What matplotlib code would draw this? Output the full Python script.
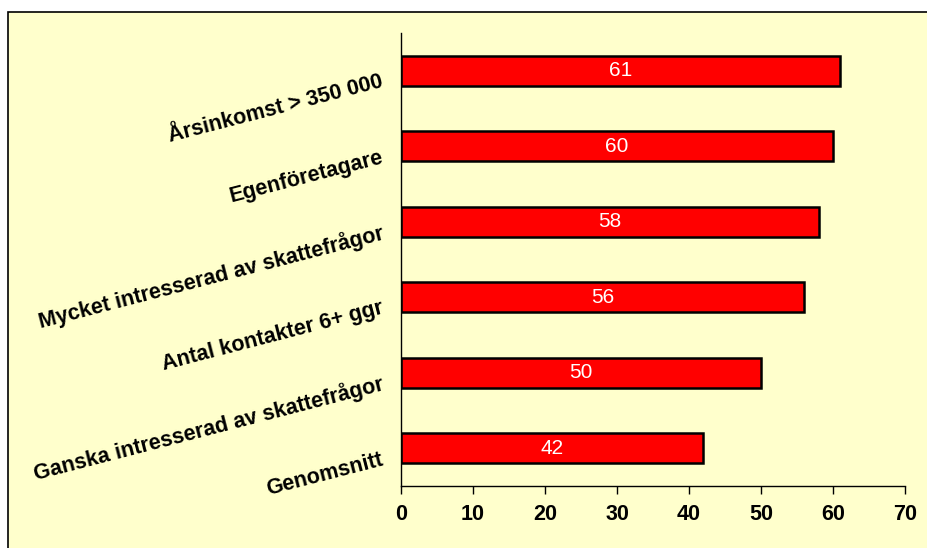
import matplotlib
matplotlib.use('Agg')
import matplotlib.pyplot as plt
from matplotlib.patches import Rectangle
import matplotlib.transforms as mtransforms

categories = ['Årsinkomst > 350 000', 'Egenföretagare',
              'Mycket intresserad av skattefrågor', 'Antal kontakter 6+ ggr',
              'Ganska intresserad av skattefrågor', 'Genomsnitt']
values = [61, 60, 58, 56, 50, 42]
xticks = [0, 10, 20, 30, 40, 50, 60, 70]

plt.rcParams['font.family'] = ['Liberation Sans', 'DejaVu Sans']

W, H = 927, 548
fig = plt.figure(figsize=(W / 100, H / 100), dpi=100)
fig.patch.set_facecolor('white')

# yellow panel with black frame, kept behind the axes
fig.patches.append(Rectangle((8 / W, -0.1), 1.2, (H - 12) / H + 0.1,
                             transform=fig.transFigure, facecolor='#FFFFCC',
                             edgecolor='black', linewidth=1.2, zorder=-10))

ax = fig.add_axes([401 / W, 62 / H, 504 / W, 453 / H])
ax.set_facecolor('none')

ypos = list(range(len(categories)))
ax.barh(ypos, values, height=0.4, color='#FF0000', edgecolor='black', linewidth=1.8)
ax.set_ylim(len(categories) - 0.5, -0.5)
ax.set_xlim(0, 70)

for y, v in zip(ypos, values):
    ax.text(v / 2, y, str(v), color='white', fontsize=15, ha='center', va='center')

ax.set_xticks(xticks)
ax.set_xticklabels([str(t) for t in xticks], fontsize=15.5, fontweight='bold')
ax.tick_params(axis='x', direction='out', length=6, width=1, pad=7)
ax.set_yticks([])

off = mtransforms.offset_copy(ax.transData, fig=fig, x=-18, y=-11, units='dots')
for y, c in zip(ypos, categories):
    ax.text(0, y, c, transform=off, rotation=14.5, rotation_mode='anchor',
            ha='right', va='center', fontsize=15.5, fontweight='bold')

for s in ['top', 'right']:
    ax.spines[s].set_visible(False)
ax.spines['left'].set_linewidth(1)
ax.spines['bottom'].set_linewidth(1)

fig.savefig('out.png', dpi=100)
